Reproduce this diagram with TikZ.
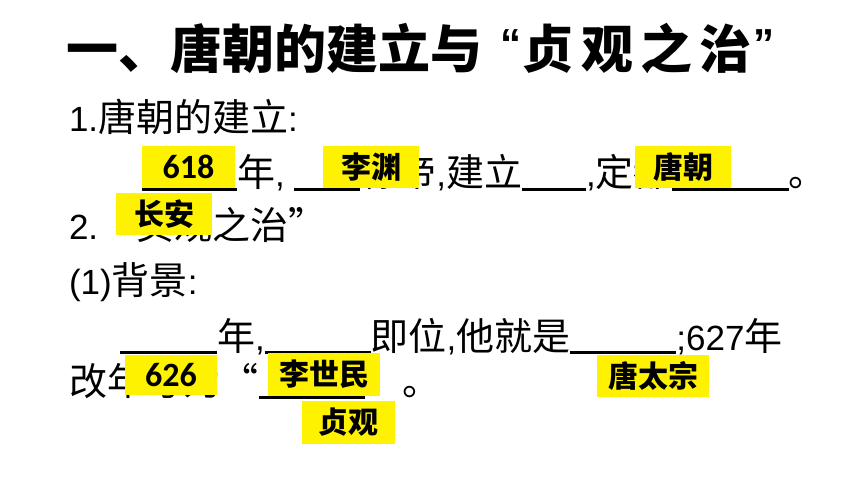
\documentclass[tikz,border=0pt]{standalone}
\usepackage{fontspec}
\setmainfont{Liberation Sans}
\newfontfamily\cjk{Noto Sans CJK SC}
\newfontfamily\numf{Carlito}
\newcommand\C[1]{{\cjk\fontsize{38pt}{40pt}\selectfont #1}}
\newcommand\Q[1]{\raisebox{10pt}{\rmfamily\bfseries\fontsize{42pt}{44pt}\selectfont #1}}
\newcommand\blank[1]{\rule[-4pt]{#1pt}{2.6pt}}
\tikzset{
  line/.style={anchor=base west, inner sep=0pt, outer sep=0pt, font=\fontsize{35pt}{40pt}\selectfont},
  ans/.style={anchor=north west, fill=yellow, inner sep=0pt, outer sep=0pt, text=black, align=center},
  anscjk/.style={ans, font=\cjk\bfseries\fontsize{30pt}{32pt}\selectfont},
  ansnum/.style={ans, font=\numf\bfseries\fontsize{34pt}{35pt}\selectfont}
}
\begin{document}
\begin{tikzpicture}[x=1pt,y=-1pt]
\useasboundingbox[fill=white] (0,0) rectangle (860,484);
% title
\node[anchor=base west, inner sep=0pt, font=\cjk\bfseries\fontsize{52pt}{56pt}\selectfont] (title) at (66,69) {一、唐朝的建立与\kern18pt\Q{“}\kern1pt 贞\kern7pt 观\kern7pt 之\kern7pt 治\kern2pt\Q{”}};
% text lines
\node[line] (l1) at (69,132) {1.\C{唐朝的建立}:};
\node[line] (l2) at (142,187) {\blank{95}\C{年}, \blank{66}\C{称帝},\C{建立}\blank{64},\C{定都}\blank{117}\C{。}};
\node[line] (l3) at (69,240) {2.\C{“贞观之治”}};
\node[line] (l4) at (69,294) {(1)\C{背景}:};
\node[line] (l5) at (120,350) {\blank{97}\C{年},\blank{106}\C{即位},\C{他就是}\blank{106};627\C{年}};
\node[line] (l6) at (69,395) {\C{改年号为“}\blank{106}\C{”。}};
% answer boxes
\node[ansnum, minimum width=93pt, minimum height=42pt] (a618) at (142,146) {618};
\node[anscjk, minimum width=96pt, minimum height=42pt] (aly) at (323,146) {李渊};
\node[anscjk, minimum width=96pt, minimum height=42pt] (atc) at (635,146) {唐朝};
\node[anscjk, minimum width=96pt, minimum height=42pt] (aca) at (116,193) {长安};
\node[ansnum, minimum width=92pt, minimum height=40pt] (a626) at (125,355) {626};
\node[anscjk, minimum width=112pt, minimum height=43pt] (alsm) at (268,353) {李世民};
\node[anscjk, minimum width=112pt, minimum height=42pt] (attz) at (597,355) {唐太宗};
\node[anscjk, minimum width=93pt, minimum height=43pt] (azg) at (302,401) {贞观};
\end{tikzpicture}
\end{document}
